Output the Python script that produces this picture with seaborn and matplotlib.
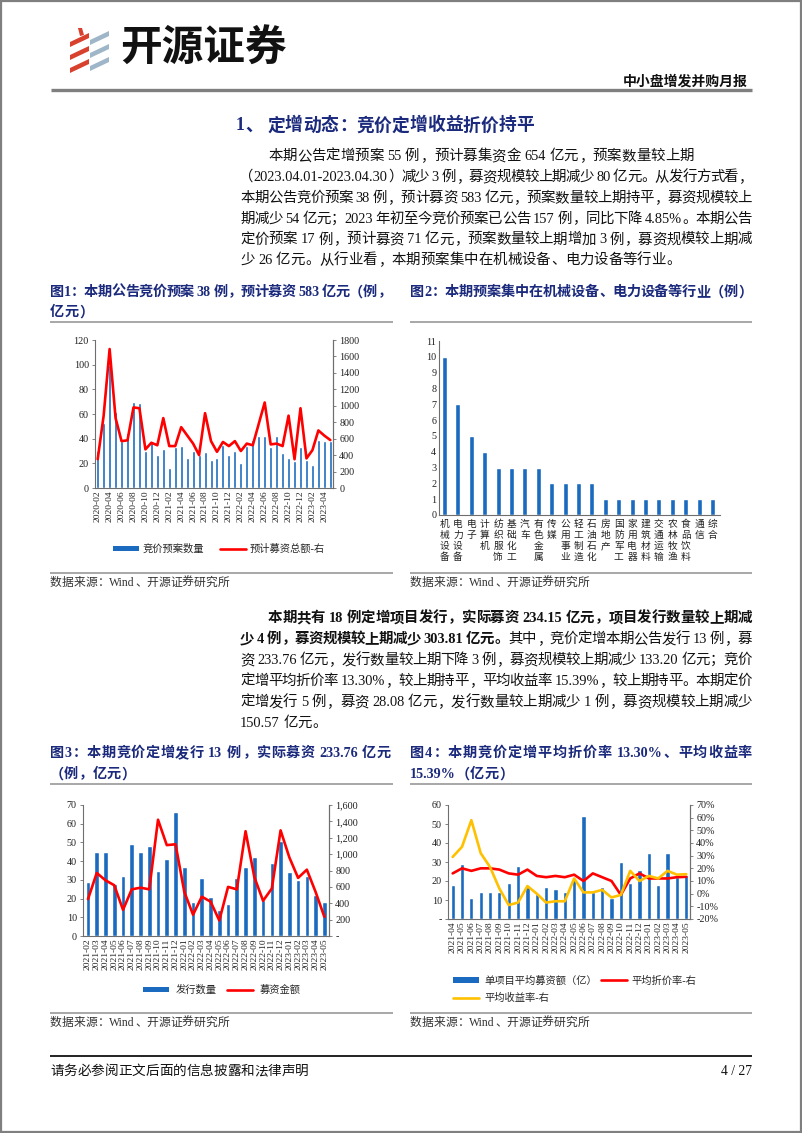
import re
import numpy as np
import pandas as pd
import matplotlib
matplotlib.use('Agg')
import matplotlib.pyplot as plt
import seaborn as sns
from matplotlib.patches import Rectangle, Polygon, Patch
from matplotlib.lines import Line2D
from matplotlib.ticker import FuncFormatter

# ---------------- data ----------------
months1 = list(pd.period_range('2020-02', '2023-05', freq='M').strftime('%Y-%m'))
count1 = [30, 53, 100, 62, 38, 45, 70, 69, 30, 38,
          27, 32, 16, 33, 34, 24, 30, 27, 29, 23,
          24, 35, 27, 30, 20, 34, 39, 42, 42, 33,
          42, 28, 24, 22, 33, 23, 19, 39, 38, 38]
amount1 = [350, 880, 1690, 850, 570, 580, 980, 970, 470, 550,
           520, 850, 510, 510, 740, 640, 540, 400, 910, 570,
           440, 560, 510, 570, 450, 540, 520, 780, 1040, 530,
           540, 510, 880, 350, 970, 360, 460, 700, 637, 583]

industries = ['机械设备', '电力设备', '电子', '计算机', '纺织服饰', '基础化工', '汽车',
              '有色金属', '传媒', '公用事业', '轻工制造', '石油石化', '房地产', '国防军工',
              '家用电器', '建筑材料', '交通运输', '农林牧渔', '食品饮料', '通信', '综合']
ind_counts = [10, 7, 5, 4, 3, 3, 3, 3, 2, 2, 2, 2, 1, 1, 1, 1, 1, 1, 1, 1, 1]

months3 = list(pd.period_range('2021-02', '2023-05', freq='M').strftime('%Y-%m'))
count3 = [29, 45, 45, 28, 32, 49, 45, 48, 35, 41, 66, 37, 18, 31, 21, 14, 17, 31, 37, 42,
          19, 39, 51, 34, 30, 32, 22, 18]
amount3 = [450, 770, 680, 620, 320, 570, 590, 570, 1420, 1110, 1120, 540, 260, 480, 420, 190,
           600, 570, 1280, 720, 430, 580, 1290, 960, 710, 810, 538, 234]

months4 = list(pd.period_range('2021-04', '2023-05', freq='M').strftime('%Y-%m'))
avg4 = [18, 29, 11, 14, 14, 14, 19, 28, 17, 13, 17, 16, 14, 21, 54, 14, 17, 11, 30, 19,
        26, 35, 18, 35, 22, 23]
disc4 = [16, 20, 18, 20, 20, 19, 16, 15, 19, 14, 13, 14, 13, 15, 10, 16, 13, 10, -1, 12,
         16, 12, 12, 12, 13, 13.3]
ret4 = [29, 37, 58, 32, 21, 4, -9, -7, 6, 0, -7, -6, -6, 12, 1, 1, 3, -3, -1, 18,
        10, 14, 12, 18, 15, 15.39]

# ---------------- style ----------------
sns.set_theme(style='white')
FONTS = ['Liberation Serif', 'Noto Sans CJK SC', 'DejaVu Sans']
plt.rcParams['font.family'] = FONTS
plt.rcParams['axes.unicode_minus'] = False

BLUE = '#1A6AC0'
RED = '#FF0000'
YELLOW = '#FFC000'
NAVY = '#1B2A7C'
SPINE = '#6E6E6E'

W, H = 802, 1133
fig = plt.figure(figsize=(W / 100, H / 100), dpi=100)
renderer = fig.canvas.get_renderer()


def fx(x):
    return x / W


def fy(y):
    return 1 - y / H


def px_axes(x0, y0, x1, y1):
    return fig.add_axes([x0 / W, 1 - y1 / H, (x1 - x0) / W, (y1 - y0) / H])


bg = fig.add_axes([0, 0, 1, 1])
bg.set_xlim(0, W)
bg.set_ylim(H, 0)
bg.axis('off')
bg.set_zorder(-10)

# page frame
bg.add_patch(Rectangle((0.8, 0.8), W - 1.6, H - 1.6, fill=False, edgecolor='#7F7F7F', lw=1.6))
# header line
bg.plot([51, 752], [89.5, 89.5], color='#7F7F7F', lw=2.4, solid_capstyle='butt')
# caption / source rules
for (a, b) in [(50, 393), (410, 752)]:
    for yy in (322, 573, 784, 1013):
        bg.plot([a, b], [yy, yy], color='#A0A0A0', lw=1.3, solid_capstyle='butt')
# footer rule
bg.plot([50, 752], [1056, 1056], color='#111111', lw=1.3, solid_capstyle='butt')

# logo
for k in range(3):
    yt = 31 + k * 13
    bg.add_patch(Polygon([(70, yt + 11), (89, yt + 2), (89, yt + 7), (70, yt + 16)],
                         closed=True, color='#D9412F', lw=0))
    bg.add_patch(Polygon([(90, yt + 9), (109, yt), (109, yt + 5), (90, yt + 14)],
                         closed=True, color='#9FB6C8', lw=0))
bg.add_patch(Polygon([(78, 28), (82, 28), (84, 35), (80, 36)], closed=True, color='#D9412F', lw=0))

fig.text(fx(120), fy(49), '开源证券', fontsize=30, fontweight='bold', color='#111111',
         family=['Noto Sans CJK SC'], ha='left', va='center')
fig.text(fx(748), fy(82), '中小盘增发并购月报', fontsize=10, fontweight='bold', color='#111111',
         ha='right', va='center')

# ---------------- text helpers ----------------
TOK = re.compile(r'[A-Za-z0-9.,%\-/]+| |.')
_cache = {}


def tok_width(tok, size, weight):
    key = (tok, size, weight)
    if key not in _cache:
        t = fig.text(0, 0, tok, fontsize=size, fontweight=weight)
        _cache[key] = t.get_window_extent(renderer).width
        t.remove()
    return _cache[key]


def draw_line(x0, yc, segments, size, color='#111111', right=None):
    em = size * 100 / 72
    items = []
    for text, weight in segments:
        for tok in TOK.findall(text):
            if tok == ' ':
                items.append((tok, weight, 0.25 * em, 'space'))
            elif len(tok) == 1 and ord(tok) > 0x2E7F:
                items.append((tok, weight, em, 'wide'))
            else:
                items.append((tok, weight, tok_width(tok, size, weight), 'latin'))
    total = sum(it[2] for it in items)
    gap = 0.0
    if right is not None and len(items) > 1:
        gap = (right - x0 - total) / (len(items) - 1)
    x = x0
    base = yc + 0.36 * em
    for tok, weight, w, kind in items:
        kw = dict(fontsize=size, fontweight=weight, color=color, va='baseline')
        if kind == 'wide':
            if tok in '，。、；：）':
                fig.text(fx(x + 0.05 * em), fy(base), tok, ha='left', **kw)
            elif tok == '（':
                fig.text(fx(x + 0.95 * em), fy(base), tok, ha='right', **kw)
            else:
                fig.text(fx(x + w / 2), fy(base), tok, ha='center', **kw)
        elif kind == 'latin':
            fig.text(fx(x), fy(base), tok, ha='left', **kw)
        x += w + gap


BODY = 10.4
# section title
draw_line(236, 124, [('1、 定增动态：竞价定增收益折价持平', 'bold')], 12.8, color=NAVY)

para1 = [
    ('本期公告定增预案 55 例，预计募集资金 654 亿元，预案数量较上期', None, 268),
    ('（2023.04.01-2023.04.30）减少 3 例，募资规模较上期减少 80 亿元。从发行方式看，', 752, 240),
    ('本期公告竞价预案 38 例，预计募资 583 亿元，预案数量较上期持平，募资规模较上', 752, 240),
    ('期减少 54 亿元；2023 年初至今竞价预案已公告 157 例，同比下降 4.85%。本期公告', 752, 240),
    ('定价预案 17 例，预计募资 71 亿元，预案数量较上期增加 3 例，募资规模较上期减', 752, 240),
    ('少 26 亿元。从行业看，本期预案集中在机械设备、电力设备等行业。', None, 240),
]
for i, (txt, rgt, x0) in enumerate(para1):
    draw_line(x0, 155 + i * 20.8, [(txt, 'normal')], BODY, right=rgt)

para2 = [
    ([('本期共有 18 例定增项目发行，实际募资 234.15 亿元，项目发行数量较上期减', 'bold')], 752, 268),
    ([('少 4 例，募资规模较上期减少 303.81 亿元。', 'bold'),
      ('其中，竞价定增本期公告发行 13 例，募', 'normal')], 752, 240),
    ([('资 233.76 亿元，发行数量较上期下降 3 例，募资规模较上期减少 133.20 亿元；竞价', 'normal')], 752, 240),
    ([('定增平均折价率 13.30%，较上期持平，平均收益率 15.39%，较上期持平。本期定价', 'normal')], 752, 240),
    ([('定增发行 5 例，募资 28.08 亿元，发行数量较上期减少 1 例，募资规模较上期减少', 'normal')], 752, 240),
    ([('150.57 亿元。', 'normal')], None, 240),
]
for i, (segs, rgt, x0) in enumerate(para2):
    draw_line(x0, 617 + i * 21, segs, BODY, right=rgt)

CAP = 10.2
draw_line(50, 291, [('图1：本期公告竞价预案 38 例，预计募资 583 亿元（例，', 'bold')], CAP, color=NAVY, right=391)
draw_line(50, 311, [('亿元）', 'bold')], CAP, color=NAVY)
draw_line(410, 291, [('图2：本期预案集中在机械设备、电力设备等行业（例）', 'bold')], CAP, color=NAVY, right=752)
draw_line(50, 752, [('图3：本期竞价定增发行 13 例，实际募资 233.76 亿元', 'bold')], CAP, color=NAVY, right=391)
draw_line(50, 773, [('（例，亿元）', 'bold')], CAP, color=NAVY)
draw_line(410, 752, [('图4：本期竞价定增平均折价率 13.30%、平均收益率', 'bold')], CAP, color=NAVY, right=752)
draw_line(410, 773, [('15.39%（亿元）', 'bold')], CAP, color=NAVY)

for xx, yy in [(50, 582), (410, 582), (50, 1022), (410, 1022)]:
    draw_line(xx, yy, [('数据来源：Wind、开源证券研究所', 'normal')], 8.5, color='#333333')

draw_line(50, 1070, [('请务必参阅正文后面的信息披露和法律声明', 'normal')], 9.8)
fig.text(fx(752), fy(1070 + 5), '4 / 27', fontsize=9.8, ha='right', va='baseline', color='#111111')

# ---------------- chart helpers ----------------
TICK = 7.3
XTICK = 6.8
LEG = 7.4


def style_axes(ax, left=True, right=False):
    for s in ax.spines.values():
        s.set_color(SPINE)
        s.set_linewidth(0.8)
    ax.spines['top'].set_visible(False)
    ax.spines['left'].set_visible(left)
    ax.spines['right'].set_visible(right)
    ax.tick_params(axis='both', labelsize=TICK, colors='#222222', length=2.5, width=0.6, pad=2)
    ax.tick_params(axis='y', color=SPINE)
    ax.set_xlabel('')
    ax.set_ylabel('')
    ax.grid(False)


# ---------------- chart 1 ----------------
df1 = pd.DataFrame({'month': months1, 'count': count1, 'amount': amount1})
ax1 = px_axes(95, 340, 333, 488)
sns.barplot(data=df1, x='month', y='count', color=BLUE, saturation=1, width=0.5, ax=ax1)
ax1.set_ylim(0, 120)
ax1.set_yticks(range(0, 121, 20))
ax1b = ax1.twinx()
sns.lineplot(x=np.arange(len(df1)), y=df1['amount'], ax=ax1b, color=RED, lw=1.9)
ax1b.set_ylim(0, 1800)
ax1b.set_yticks(range(0, 1801, 200))
ax1.set_xticks(range(0, len(months1), 2))
ax1.set_xticklabels(months1[::2], rotation=90)
ax1.set_xlim(-0.45, len(months1) - 0.55)
style_axes(ax1, right=True)
style_axes(ax1b, left=False, right=True)
ax1b.spines['bottom'].set_visible(False)
ax1.tick_params(axis='x', length=0, pad=2, labelsize=XTICK)
fig.legend([Patch(facecolor=BLUE, edgecolor='none'), Line2D([], [], color=RED, lw=1.9)],
           ['竞价预案数量', '预计募资总额-右'], loc='center', bbox_to_anchor=(fx(219), fy(549)),
           ncol=2, frameon=False, fontsize=LEG, handlelength=2.5, handleheight=0.5,
           columnspacing=1.5, handletextpad=0.4)

# ---------------- chart 2 ----------------
df2 = pd.DataFrame({'industry': industries, 'n': ind_counts})
ax2 = px_axes(439, 341, 720, 515)
sns.barplot(data=df2, x='industry', y='n', color=BLUE, saturation=1, width=0.38, ax=ax2)
ax2.set_ylim(0, 11)
ax2.set_yticks(range(0, 12))
ax2.set_xlim(-0.41, len(industries) - 0.44)
ax2.set_xticks(range(len(industries)))
ax2.set_xticklabels(['\n'.join(s) for s in industries], rotation=0, va='top', linespacing=1.12,
                    family=['Noto Sans CJK SC'])
style_axes(ax2)
ax2.tick_params(axis='x', length=0, pad=3, labelsize=7)
ax2.tick_params(axis='y', direction='in', length=3)
ax2.set_xticks(np.arange(0.5, len(industries) - 0.5, 1), minor=True)
ax2.tick_params(axis='x', which='minor', length=3, width=0.6, color=SPINE, direction='out')

# ---------------- chart 3 ----------------
df3 = pd.DataFrame({'month': months3, 'count': count3, 'amount': amount3})
ax3 = px_axes(83, 805, 329, 936)
sns.barplot(data=df3, x='month', y='count', color=BLUE, saturation=1, width=0.53, ax=ax3)
ax3.set_ylim(0, 70)
ax3.set_yticks(range(0, 71, 10))
ax3b = ax3.twinx()
sns.lineplot(x=np.arange(len(df3)), y=df3['amount'], ax=ax3b, color=RED, lw=1.9)
ax3b.set_ylim(0, 1600)
ax3b.set_yticks(range(0, 1601, 200))
ax3b.yaxis.set_major_formatter(FuncFormatter(lambda v, p: '-' if v == 0 else f'{v:,.0f}'))
ax3.set_xticks(range(len(months3)))
ax3.set_xticklabels(months3, rotation=90)
ax3.set_xlim(-0.57, len(months3) - 0.47)
style_axes(ax3, right=True)
style_axes(ax3b, left=False, right=True)
ax3b.spines['bottom'].set_visible(False)
ax3.tick_params(axis='x', length=0, pad=2, labelsize=XTICK)
fig.legend([Patch(facecolor=BLUE, edgecolor='none'), Line2D([], [], color=RED, lw=1.9)],
           ['发行数量', '募资金额'], loc='center', bbox_to_anchor=(fx(222), fy(990)),
           ncol=2, frameon=False, fontsize=LEG, handlelength=2.5, handleheight=0.5,
           columnspacing=1.0, handletextpad=0.7)

# ---------------- chart 4 ----------------
df4 = pd.DataFrame({'month': months4, 'avg': avg4, 'disc': disc4, 'ret': ret4})
ax4 = px_axes(448, 805, 690, 919)
sns.barplot(data=df4, x='month', y='avg', color=BLUE, saturation=1, width=0.45, ax=ax4)
ax4.set_ylim(0, 60)
ax4.set_yticks(range(0, 61, 10))
ax4.yaxis.set_major_formatter(FuncFormatter(lambda v, p: '-' if v == 0 else f'{v:.0f}'))
ax4b = ax4.twinx()
sns.lineplot(x=np.arange(len(df4)), y=df4['disc'], ax=ax4b, color=RED, lw=1.9)
sns.lineplot(x=np.arange(len(df4)), y=df4['ret'], ax=ax4b, color=YELLOW, lw=1.9)
ax4b.set_ylim(-20, 70)
ax4b.set_yticks(range(-20, 71, 10))
ax4b.yaxis.set_major_formatter(FuncFormatter(lambda v, p: f'{v:.0f}%'))
ax4.set_xticks(range(len(months4)))
ax4.set_xticklabels(months4, rotation=90)
ax4.set_xlim(-0.5, len(months4) - 0.6)
style_axes(ax4, right=True)
style_axes(ax4b, left=False, right=True)
ax4b.spines['bottom'].set_visible(False)
ax4.tick_params(axis='x', length=0, pad=2, labelsize=XTICK)
fig.legend([Patch(facecolor=BLUE, edgecolor='none'), Line2D([], [], color=YELLOW, lw=1.9),
            Line2D([], [], color=RED, lw=1.9)],
           ['单项目平均募资额（亿）', '平均收益率-右', '平均折价率-右'],
           loc='upper left', bbox_to_anchor=(fx(444), fy(966)),
           ncol=2, frameon=False, fontsize=LEG, handlelength=2.5, handleheight=0.5,
           columnspacing=0.4, handletextpad=0.5, labelspacing=0.7)

fig.savefig('out.png', dpi=100)
